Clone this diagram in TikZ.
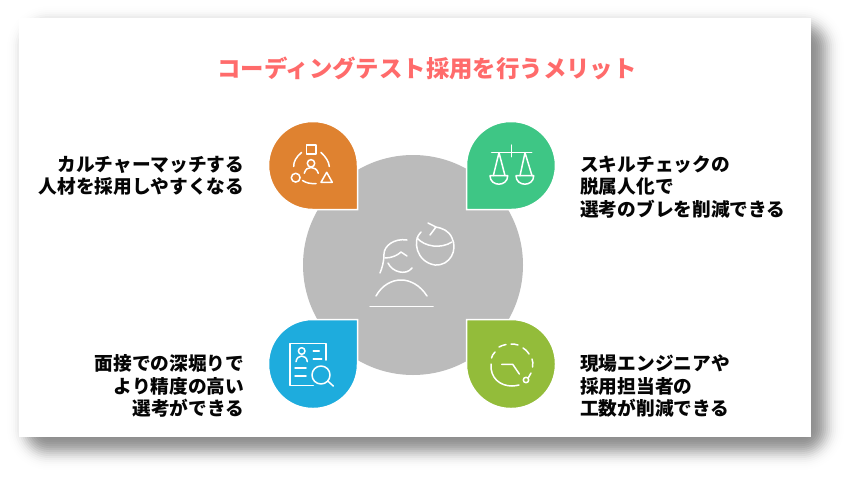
\documentclass[tikz,border=0pt]{standalone}
\usepackage{fontspec}
\setmainfont{Noto Sans CJK JP}
\definecolor{cTitle}{HTML}{FF6B6B}
\definecolor{cOrange}{HTML}{DF8230}
\definecolor{cGreen}{HTML}{3EC685}
\definecolor{cBlue}{HTML}{1EACDD}
\definecolor{cLime}{HTML}{93BC3A}
\definecolor{cGray}{HTML}{BBBBBB}
\definecolor{cText}{HTML}{050505}
\begin{document}
\begin{tikzpicture}[
		x=1pt, y=-1pt,
		% Estilos de las gotas, las etiquetas y los iconos
		gota/.style={draw=white, line width=1.5pt},
		icono/.style={draw=white, line width=1.5pt, line cap=round, line join=round},
		etiqIzq/.style={anchor=east, align=right, font=\fontsize{18.7}{22.5}\selectfont\bfseries, text=cText, inner sep=0pt},
		etiqDer/.style={anchor=west, align=left, font=\fontsize{18.7}{22.5}\selectfont\bfseries, text=cText, inner sep=0pt}
	]

	\useasboundingbox (0,0) rectangle (850,476);
	\fill[white] (0,0) rectangle (850,476);

	% --- 1. Tarjeta y sombra ---
	\foreach \e in {20,18,...,-20} {
		\pgfmathsetmacro{\r}{\e+22}
		\pgfmathsetmacro{\o}{0.055*exp(-\e*\e/128)}
		\fill[black, opacity=\o, rounded corners=\r pt] (27-\e,26-\e) rectangle (824+\e,450+\e);
	}
	\fill[white] (19,18) rectangle (811,437);

	\node[font=\fontsize{23.4}{26}\selectfont\bfseries, text=cTitle, inner sep=0pt] (titulo) at (427,68.5) {コーディングテスト採用を行うメリット};

	% --- 2. Circulo central y gotas ---
	\fill[cGray] (413,265) circle (110);

	\draw[gota, fill=cOrange] (357.5,209.5) [rounded corners=44pt] -- (268.5,209.5) -- (268.5,121.5) -- (357.5,121.5) [sharp corners] -- cycle;
	\draw[gota, fill=cGreen] (466.5,209.5) [rounded corners=44pt] -- (555.5,209.5) -- (555.5,121.5) -- (466.5,121.5) [sharp corners] -- cycle;
	\draw[gota, fill=cBlue] (357.5,319.5) [rounded corners=44pt] -- (268.5,319.5) -- (268.5,408.5) -- (357.5,408.5) [sharp corners] -- cycle;
	\draw[gota, fill=cLime] (466.5,319.5) [rounded corners=44pt] -- (555.5,319.5) -- (555.5,408.5) -- (466.5,408.5) [sharp corners] -- cycle;

	% --- 3. Icono central ---
	\draw[icono] (421,232) .. controls (412,240) and (416,262) .. (435,265)
		.. controls (450,266) and (458,250) .. (452,238)
		.. controls (449,231) and (443,228) .. (435,227);
	\draw[icono] (428,223) -- (436,227) -- (430,235);
	\draw[icono] (417,238) .. controls (425,247) and (441,249) .. (452,242);
	\draw[icono] (407,240) .. controls (394,238) and (384,246) .. (384,254) .. controls (384,262) and (382,268) .. (380,273);
	\draw[icono] (385,258) .. controls (392,258) and (398,255) .. (401,252) -- (407,256);
	\draw[icono] (388,263) .. controls (392,272) and (406,276) .. (412,268);
	\draw[icono] (376,296) .. controls (382,285) and (392,280) .. (401,280) .. controls (410,280) and (420,285) .. (427,296);
	\draw[icono] (370,306.5) -- (433,306.5);

	% --- 4. Icono naranja ---
	\draw[icono] (306.7,145) rectangle (316,154);
	\draw[icono] (311,163.3) circle (3.7);
	\draw[icono] (304.3,173.3) .. controls (305.5,169) and (308,167.5) .. (311,167.5) .. controls (314,167.5) and (317,169) .. (318.3,173.3);
	\draw[icono] (295.7,177.7) circle (4.4);
	\draw[icono] (321,182.3) -- (332.3,182.3) -- (326.7,172.3) -- cycle;
	\draw[icono] (301.5,152.5) .. controls (296,157) and (293.5,162) .. (293.7,166.5);
	\draw[icono] (321,152.5) .. controls (326,157) and (329,162) .. (329.3,166.5);
	\draw[icono] (302.5,180.5) .. controls (306,183) and (311,184) .. (316,183.5);

	% --- 5. Icono verde ---
	\draw[icono] (491.7,152.7) -- (531.7,152.7);
	\draw[icono] (511.7,145) -- (511.7,156.7);
	\draw[icono] (505,175.7) -- (499,152.7) -- (493.3,175.7);
	\draw[icono] (532,175.7) -- (525,152.7) -- (520,175.7);
	\draw[icono] (490,175.7) -- (507.7,175.7) .. controls (507.7,187) and (490,187) .. (490,175.7);
	\draw[icono] (516,175.7) -- (533.7,175.7) .. controls (533.7,187) and (516,187) .. (516,175.7);

	% --- 6. Icono azul ---
	\draw[icono] (326,360) -- (326,343.3) -- (290,343.3) -- (290,385.7) -- (313.3,385.7);
	\draw[icono] (301.7,351) circle (3.3);
	\draw[icono] (296,361.7) .. controls (296.5,358) and (299,356) .. (301.7,356) .. controls (304.5,356) and (307,358) .. (307.3,361.7);
	\draw[icono] (313.3,351) -- (319.3,351);
	\draw[icono] (313.3,359) -- (321.7,359);
	\draw[icono] (295,368) -- (306,368);
	\draw[icono] (295,376) -- (306,376);
	\draw[icono] (321,375) circle (9);
	\draw[icono] (327.7,381) -- (333.3,386);

	% --- 7. Icono lima ---
	\draw[icono] (491,364) .. controls (490,378) and (500,386) .. (512,386) .. controls (514,386) and (517,385.5) .. (519,385);
	\draw[icono] (491.5,358) .. controls (492,356) and (493,354) .. (495,352);
	\draw[icono] (499,347) .. controls (501,346) and (503,345) .. (506,344.5);
	\draw[icono] (511,344) .. controls (513,344) and (515,344) .. (518,345);
	\draw[icono] (523,348) .. controls (525,349) and (527,351) .. (529,354);
	\draw[icono] (532,359) .. controls (533,361) and (533,364) .. (532.5,367);
	\draw[icono] (531,373) -- (528.5,377.5);
	\draw[icono] (526,380) circle (2.7);
	\draw[icono] (501.7,364.3) -- (512.7,364.3) -- (519.3,374);

	% --- 8. Etiquetas ---
	\node[etiqIzq] (cultura) at (244.5,176) {カルチャーマッチする\\人材を採用しやすくなる};
	\node[etiqDer] (skill) at (580,187) {スキルチェックの\\脱属人化で\\選考のブレを削減できる};
	\node[etiqIzq] (entrevista) at (244.5,386) {面接での深堀りで\\より精度の高い\\選考ができる};
	\node[etiqDer] (campo) at (580,386) {現場エンジニアや\\採用担当者の\\工数が削減できる};

\end{tikzpicture}
\end{document}
